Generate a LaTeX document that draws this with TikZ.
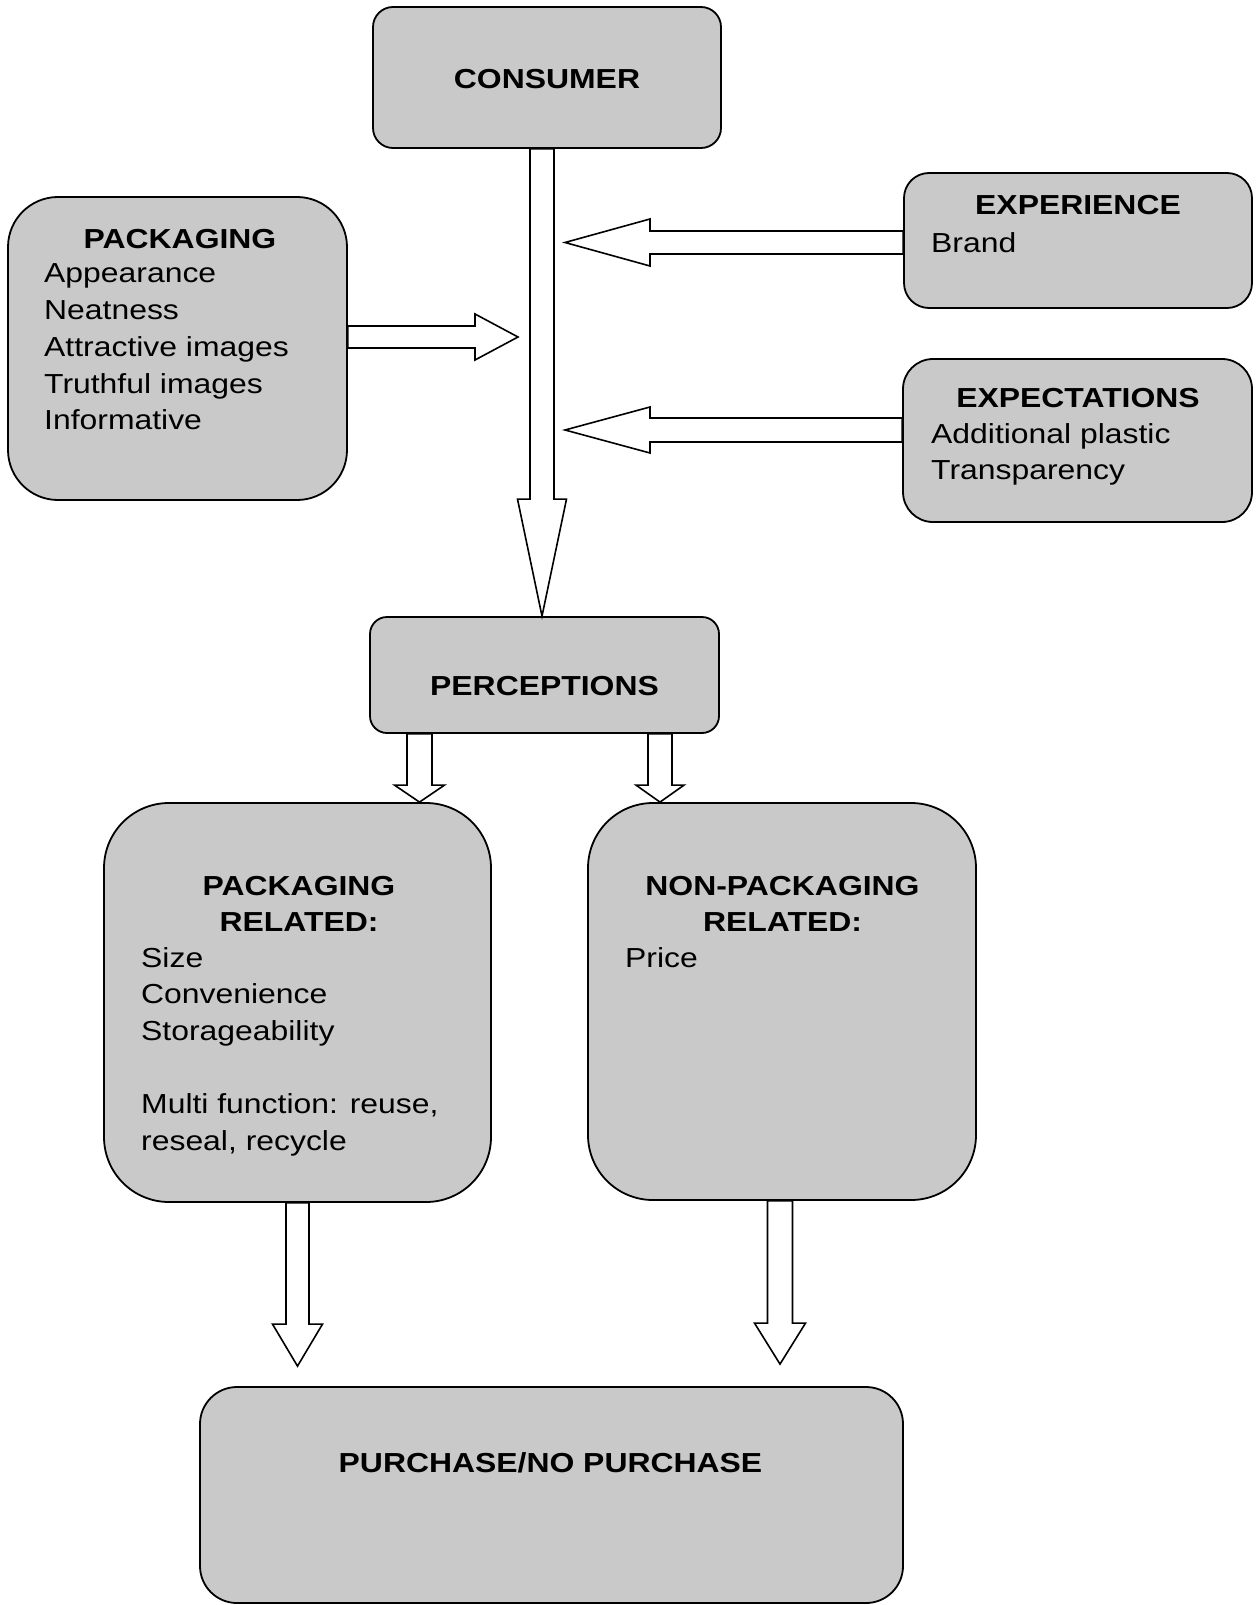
\documentclass[tikz,border=0pt]{standalone}
\usepackage{fontspec}
\setmainfont{Liberation Sans}[FakeStretch=1.16]
\usetikzlibrary{calc}
\tikzset{>=latex}
\definecolor{boxgray}{gray}{0.79}
\tikzset{greybox/.style={draw,line width=1.8pt,fill=boxgray,rounded corners=#1,inner sep=0pt}}
\tikzset{headtxt/.style={inner sep=0pt,anchor=base,font=\fontsize{27.5}{36.7}\selectfont\bfseries}}
\tikzset{listtxt/.style={inner sep=0pt,anchor=base west,font=\fontsize{27.5}{36.7}\selectfont}}
\tikzset{blockarrow/.style={draw,fill=white,line width=1.6pt,line join=miter}}
\newcommand\leftcol[1]{\begin{tabular}[t]{@{}l@{}}#1\end{tabular}}
\newcommand\midcol[1]{\begin{tabular}[t]{@{}c@{}}#1\end{tabular}}
\newcommand\vblock[5]{\draw[blockarrow] let \p1=(#1), \p2=(#2), \n1={sign(\y2-\y1)*#5} in
  (\x1+#3,\y1) -- (\x1+#3,\y2-\n1) -- (\x1+#4,\y2-\n1) -- (\x1,\y2) --
  (\x1-#4,\y2-\n1) -- (\x1-#3,\y2-\n1) -- (\x1-#3,\y1) -- cycle;}
\newcommand\hblock[5]{\draw[blockarrow] let \p1=(#1), \p2=(#2), \n1={sign(\x2-\x1)*#5} in
  (\x1,\y1+#3) -- (\x2-\n1,\y1+#3) -- (\x2-\n1,\y1+#4) -- (\x2,\y1) --
  (\x2-\n1,\y1-#4) -- (\x2-\n1,\y1-#3) -- (\x1,\y1-#3) -- cycle;}

\begin{document}
\begin{tikzpicture}[x=1pt,y=-1pt]
  \useasboundingbox (0,0) rectangle (1257,1605);

  \node[greybox=20pt,minimum width=348pt,minimum height=141pt] (consumer) at (547,77.5) {};
  \node[greybox=50pt,minimum width=339pt,minimum height=303pt] (pack) at (177.5,348.5) {};
  \node[greybox=25pt,minimum width=348pt,minimum height=135pt] (exper) at (1078,240.5) {};
  \node[greybox=30pt,minimum width=349pt,minimum height=163pt] (expect) at (1077.5,440.5) {};
  \node[greybox=17pt,minimum width=349pt,minimum height=116pt] (percep) at (544.5,675) {};
  \node[greybox=65pt,minimum width=387pt,minimum height=399pt] (prel) at (297.5,1002.5) {};
  \node[greybox=65pt,minimum width=388pt,minimum height=397pt] (nrel) at (782,1001.5) {};
  \node[greybox=37pt,minimum width=703pt,minimum height=216pt] (purch) at (551.5,1495) {};

  \node[headtxt] (consumer-h) at (547,89) {CONSUMER};
  \node[headtxt] (pack-h) at (180,248) {PACKAGING};
  \node[listtxt] (pack-l) at (44,283) {\leftcol{Appearance\\Neatness\\Attractive images\\Truthful images\\Informative}};
  \node[headtxt] (exper-h) at (1078,215) {EXPERIENCE};
  \node[listtxt] (exper-l) at (931,252) {Brand};
  \node[headtxt] (expect-h) at (1078,407) {EXPECTATIONS};
  \node[listtxt] (expect-l) at (931,443) {\leftcol{Additional plastic\\Transparency}};
  \node[headtxt] (percep-h) at (544.5,695) {PERCEPTIONS};
  \node[headtxt] (prel-h) at (299,895) {\midcol{PACKAGING\\RELATED:}};
  \node[listtxt] (prel-l) at (141,967) {\leftcol{Size\\Convenience\\Storageability\\ \\Multi function: reuse,\\reseal, recycle}};
  \node[headtxt] (nrel-h) at (782.5,895) {\midcol{NON-PACKAGING\\RELATED:}};
  \node[listtxt] (nrel-l) at (625,967) {Price};
  \node[headtxt] (purch-h) at (550.5,1472) {PURCHASE/NO PURCHASE};

  \coordinate (packtip) at (518,337);
  \coordinate (sidetip) at (565,242);

  \vblock{[xshift=-5pt]consumer.south}{percep.north}{12pt}{24.5pt}{117pt}
  \hblock{[yshift=11.5pt]pack.east}{packtip}{11pt}{23pt}{43pt}
  \hblock{[yshift=-2pt]exper.west}{sidetip}{11.5pt}{23.5pt}{85pt}
  \hblock{[yshift=10.5pt]expect.west}{sidetip}{12pt}{23pt}{85pt}
  \vblock{[xshift=-125pt]percep.south}{prel.north}{12.5pt}{25pt}{17pt}
  \vblock{[xshift=115.5pt]percep.south}{nrel.north}{12pt}{24pt}{17pt}
  \vblock{prel.south}{[yshift=20pt]purch.north}{11.5pt}{25pt}{42pt}
  \vblock{[xshift=-2pt]nrel.south}{[yshift=22pt]purch.north}{12.5pt}{25.5pt}{41pt}
\end{tikzpicture}
\end{document}
